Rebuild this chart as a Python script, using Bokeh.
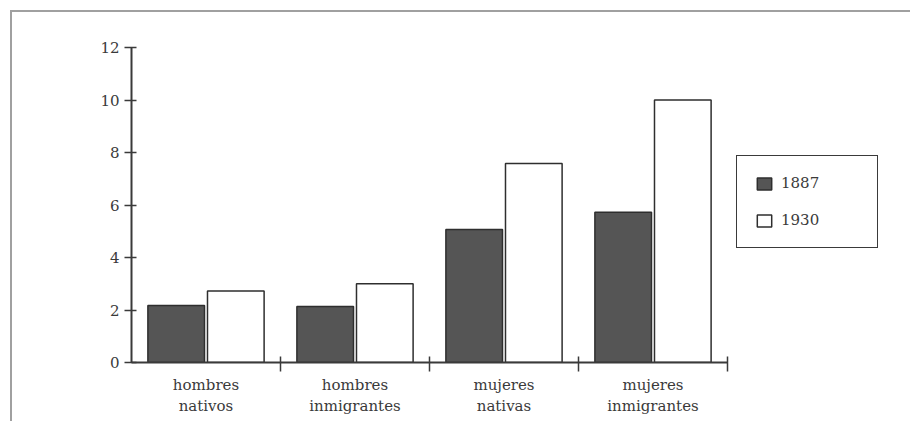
from bokeh.plotting import figure
from bokeh.models import Range1d, FixedTicker, ColumnDataSource, Legend, LegendItem
from bokeh.embed import file_html
from bokeh.resources import INLINE

categories = ["hombres\nnativos", "hombres\ninmigrantes", "mujeres\nnativas", "mujeres\ninmigrantes"]
years = ["1887", "1930"]
v1887 = [2.17, 2.13, 5.07, 5.72]
v1930 = [2.72, 3.0, 7.58, 10.0]
y_ticks = [0, 2, 4, 6, 8, 10, 12]

FONT = "DejaVu Serif"
INK = "#3a3a3a"

n = len(categories)
centers = [i + 0.5 for i in range(n)]
src = ColumnDataSource(dict(x1=[c - 0.2 for c in centers], x2=[c + 0.2 for c in centers],
                            v1887=v1887, v1930=v1930))

# frame: 771 px wide, category axis occupies 596 px of it
p = figure(width=900, height=411, output_backend="svg", toolbar_location=None,
           x_range=Range1d(0, n * 771 / 596), y_range=Range1d(0, 12),
           min_border_left=119, min_border_top=35, min_border_bottom=61, min_border_right=10)
p.outline_line_color = None
p.xgrid.grid_line_color = None
p.ygrid.grid_line_color = None
p.background_fill_color = "white"
p.border_fill_color = "white"
p.styles = {"border-left": "2px solid #a0a0a0", "border-top": "2px solid #a0a0a0",
            "margin-left": "10px", "margin-top": "10px"}

r1 = p.vbar(x="x1", top="v1887", width=0.38, source=src, fill_color="#555555",
            line_color="#2e2e2e", line_width=1.5)
r2 = p.vbar(x="x2", top="v1930", width=0.38, source=src, fill_color="white",
            line_color="#2e2e2e", line_width=1.5)

# y axis
p.yaxis.ticker = FixedTicker(ticks=y_ticks)
p.yaxis.axis_line_color = INK
p.yaxis.axis_line_width = 2
p.yaxis.major_tick_line_color = INK
p.yaxis.major_tick_line_width = 1.5
p.yaxis.major_tick_in = 5
p.yaxis.major_tick_out = 7
p.yaxis.minor_tick_line_color = None
p.yaxis.major_label_text_font = FONT
p.yaxis.major_label_text_font_size = "15px"
p.yaxis.major_label_text_color = INK
p.yaxis.major_label_standoff = 5

# x axis
p.xaxis.bounds = (0, n)
p.xaxis.ticker = FixedTicker(ticks=centers, minor_ticks=list(range(1, n + 1)))
p.xaxis.major_label_overrides = {c: lab for c, lab in zip(centers, categories)}
p.xaxis.axis_line_color = INK
p.xaxis.axis_line_width = 2
p.xaxis.major_tick_line_color = None
p.xaxis.major_tick_out = 9
p.xaxis.minor_tick_line_color = INK
p.xaxis.minor_tick_line_width = 1.5
p.xaxis.minor_tick_in = 6
p.xaxis.minor_tick_out = 9
p.xaxis.major_label_text_font = FONT
p.xaxis.major_label_text_font_size = "15px"
p.xaxis.major_label_text_color = INK
p.xaxis.major_label_standoff = 4

legend = Legend(items=[LegendItem(label=years[0], renderers=[r1]),
                       LegendItem(label=years[1], renderers=[r2])],
                location=(605, 114), orientation="vertical")
legend.border_line_color = INK
legend.border_line_alpha = 1.0
legend.border_line_width = 1.5
legend.margin = 0
legend.padding = 18
legend.glyph_width = 18
legend.glyph_height = 15
legend.label_height = 15
legend.label_width = 78
legend.label_standoff = 8
legend.spacing = 19
legend.label_text_font = FONT
legend.label_text_font_size = "15px"
legend.label_text_color = INK
p.add_layout(legend)

open("out.html", "w").write(file_html(p, INLINE))
